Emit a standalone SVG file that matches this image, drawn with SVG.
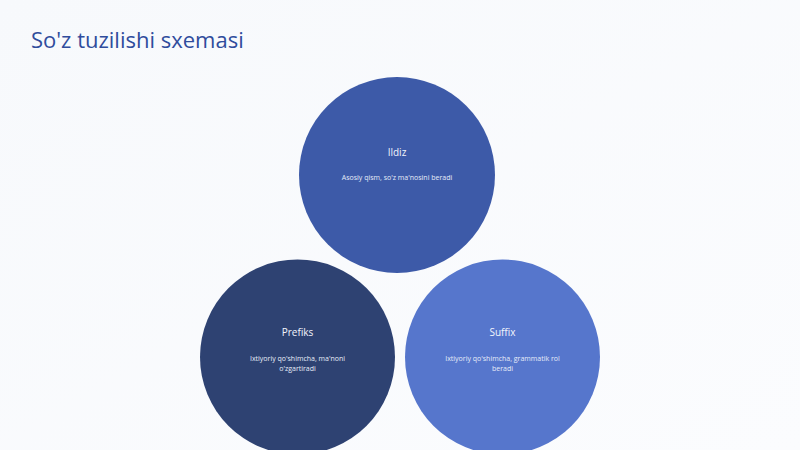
<svg xmlns="http://www.w3.org/2000/svg" width="800" height="450" viewBox="0 0 800 450">
<defs>
<linearGradient id="bg" x1="0" y1="0" x2="1" y2="1">
<stop offset="0" stop-color="#F7F9FC"/>
<stop offset="1" stop-color="#FBFCFE"/>
</linearGradient>
</defs>
<style>
.title{font-family:"Open Sans","Noto Sans",sans-serif;font-size:22px;fill:#2F4C9C}
.h{font-family:"Open Sans","Noto Sans",sans-serif;font-size:10px;fill:#F2F5FC;text-anchor:middle}
.d{font-family:"Open Sans","Noto Sans",sans-serif;font-size:7px;fill:#E6ECF8;text-anchor:middle}
</style>
<rect width="800" height="450" fill="url(#bg)"/>
<text class="title" x="31" y="48">So'z tuzilishi sxemasi</text>
<g id="connectors"></g>
<g id="ildiz">
<circle cx="397" cy="175" r="98" fill="#3D5AA8"/>
<text class="h" x="397" y="156">Ildiz</text>
<text class="d" x="397" y="180">Asosiy qism, so'z ma'nosini beradi</text>
</g>
<g id="prefiks">
<circle cx="297.5" cy="357" r="97.5" fill="#2E4272"/>
<text class="h" x="297.5" y="336">Prefiks</text>
<text class="d" x="297.5" y="361">Ixtiyoriy qo'shimcha, ma'noni</text>
<text class="d" x="297.5" y="371">o'zgartiradi</text>
</g>
<g id="suffix">
<circle cx="502.5" cy="357" r="97.5" fill="#5676CC"/>
<text class="h" x="502.5" y="336">Suffix</text>
<text class="d" x="502.5" y="361">Ixtiyoriy qo'shimcha, grammatik rol</text>
<text class="d" x="502.5" y="371">beradi</text>
</g>
</svg>
